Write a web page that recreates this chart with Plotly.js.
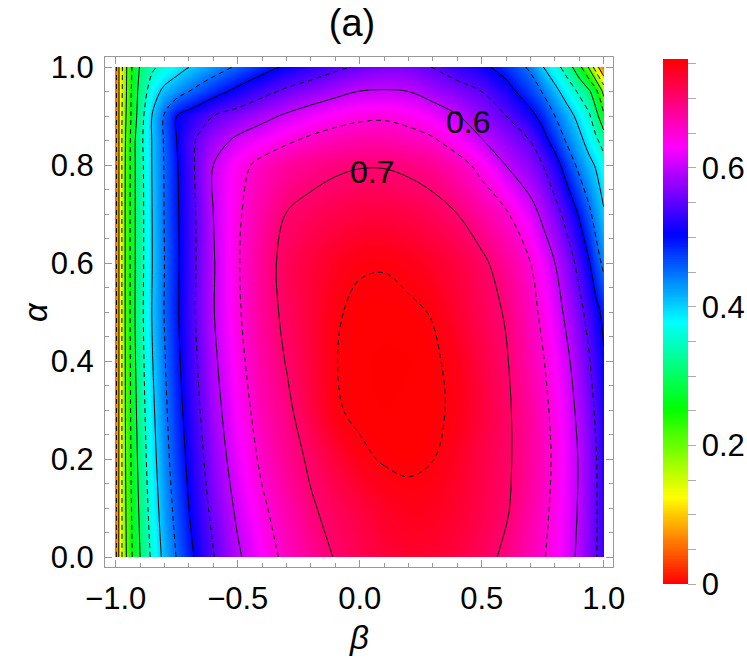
<!DOCTYPE html>
<html>
<head>
<meta charset="utf-8">
<script src="https://cdn.plot.ly/plotly-3.0.1.min.js"></script>
<style>html,body{margin:0;padding:0;background:#fff;}#chart{width:747px;height:663px;}</style>
</head>
<body>
<div id="chart"></div>
<script>
// beta (x) sample columns
var betaVals = [-1, -0.99, -0.98, -0.97, -0.96, -0.95, -0.94, -0.92, -0.9, -0.88, -0.85, -0.8, -0.75, -0.7, -0.65, -0.6, -0.5, -0.4, -0.3, -0.2, -0.1, 0, 0.1, 0.2, 0.3, 0.4, 0.5, 0.6, 0.7, 0.75, 0.8, 0.85, 0.9, 0.94, 0.97, 1.0];
// alpha (y) sample rows
var alphaVals = [0, 0.1, 0.2, 0.3, 0.4, 0.5, 0.6, 0.7, 0.8, 0.85, 0.9, 0.95, 1.0];

// values, one row per alpha
var row_a000 = [0.035, 0.09, 0.131, 0.164, 0.192, 0.215, 0.237, 0.27, 0.30, 0.324, 0.361, 0.414, 0.452, 0.487, 0.519, 0.548, 0.594, 0.630, 0.660, 0.682, 0.702, 0.716, 0.727, 0.733, 0.732, 0.725, 0.712, 0.693, 0.667, 0.654, 0.636, 0.615, 0.592, 0.568, 0.551, 0.532];
var row_a010 = [0.035, 0.089, 0.130, 0.165, 0.196, 0.219, 0.241, 0.279, 0.309, 0.334, 0.373, 0.425, 0.464, 0.5, 0.532, 0.562, 0.608, 0.644, 0.67, 0.696, 0.712, 0.725, 0.737, 0.743, 0.741, 0.733, 0.72, 0.704, 0.675, 0.66, 0.641, 0.619, 0.596, 0.571, 0.552, 0.525];
var row_a020 = [0.035, 0.088, 0.13, 0.167, 0.199, 0.222, 0.245, 0.287, 0.316, 0.343, 0.383, 0.434, 0.474, 0.510, 0.543, 0.574, 0.621, 0.657, 0.684, 0.706, 0.728, 0.746, 0.752, 0.754, 0.7505, 0.739, 0.722, 0.706, 0.68, 0.663, 0.644, 0.621, 0.597, 0.571, 0.551, 0.52];
var row_a030 = [0.035, 0.087, 0.13, 0.168, 0.201, 0.225, 0.248, 0.293, 0.322, 0.35, 0.391, 0.441, 0.482, 0.519, 0.553, 0.584, 0.631, 0.667, 0.692, 0.722, 0.748, 0.754, 0.756, 0.756, 0.754, 0.746, 0.728, 0.706, 0.678, 0.66, 0.64, 0.617, 0.59, 0.564, 0.543, 0.515];
var row_a040 = [0.035, 0.086, 0.129, 0.168, 0.203, 0.227, 0.25, 0.298, 0.327, 0.356, 0.398, 0.447, 0.489, 0.527, 0.56, 0.592, 0.639, 0.675, 0.702, 0.726, 0.7495, 0.755, 0.757, 0.756, 0.753, 0.744, 0.723, 0.703, 0.67, 0.653, 0.63, 0.607, 0.578, 0.553, 0.53, 0.505];
var row_a050 = [0.035, 0.086, 0.129, 0.169, 0.205, 0.229, 0.252, 0.302, 0.331, 0.36, 0.403, 0.452, 0.494, 0.532, 0.566, 0.598, 0.645, 0.681, 0.709, 0.728, 0.748, 0.754, 0.754, 0.753, 0.749, 0.733, 0.715, 0.697, 0.662, 0.642, 0.617, 0.591, 0.562, 0.535, 0.512, 0.488];
var row_a060 = [0.035, 0.086, 0.129, 0.169, 0.205, 0.229, 0.252, 0.30, 0.329, 0.358, 0.4, 0.45, 0.492, 0.53, 0.564, 0.597, 0.647, 0.683, 0.712, 0.727, 0.739, 0.748, 0.749, 0.745, 0.736, 0.725, 0.708, 0.681, 0.65, 0.625, 0.6, 0.571, 0.537, 0.503, 0.468, 0.44];
var row_a070 = [0.035, 0.086, 0.129, 0.169, 0.205, 0.229, 0.252, 0.30, 0.329, 0.358, 0.401, 0.452, 0.494, 0.531, 0.565, 0.6, 0.645, 0.675, 0.701, 0.711, 0.719, 0.724, 0.725, 0.721, 0.713, 0.70, 0.677, 0.655, 0.615, 0.592, 0.566, 0.535, 0.495, 0.459, 0.43, 0.405];
var row_a080 = [0.035, 0.086, 0.129, 0.169, 0.203, 0.228, 0.251, 0.30, 0.33, 0.36, 0.403, 0.453, 0.496, 0.534, 0.569, 0.6, 0.636, 0.662, 0.677, 0.687, 0.694, 0.698, 0.698, 0.693, 0.684, 0.665, 0.638, 0.599, 0.572, 0.55, 0.52, 0.477, 0.438, 0.412, 0.395, 0.37];
var row_a085 = [0.035, 0.086, 0.129, 0.169, 0.20, 0.225, 0.25, 0.30, 0.333, 0.364, 0.403, 0.455, 0.5, 0.536, 0.562, 0.581, 0.609, 0.626, 0.644, 0.658, 0.667, 0.672, 0.672, 0.665, 0.655, 0.632, 0.602, 0.576, 0.549, 0.517, 0.482, 0.444, 0.412, 0.383, 0.357, 0.33];
var row_a090 = [0.035, 0.086, 0.129, 0.165, 0.194, 0.22, 0.245, 0.289, 0.325, 0.358, 0.403, 0.455, 0.5, 0.517, 0.533, 0.55, 0.569, 0.588, 0.606, 0.622, 0.635, 0.643, 0.645, 0.638, 0.623, 0.602, 0.576, 0.55, 0.512, 0.486, 0.45, 0.419, 0.386, 0.357, 0.314, 0.26];
var row_a095 = [0.035, 0.086, 0.127, 0.161, 0.189, 0.216, 0.242, 0.284, 0.316, 0.339, 0.378, 0.412, 0.431, 0.45, 0.467, 0.483, 0.512, 0.537, 0.558, 0.573, 0.588, 0.601, 0.603, 0.6, 0.583, 0.567, 0.55, 0.517, 0.474, 0.447, 0.413, 0.379, 0.342, 0.308, 0.26, 0.185];
var row_a100 = [0.035, 0.086, 0.127, 0.158, 0.187, 0.212, 0.238, 0.275, 0.304, 0.319, 0.342, 0.364, 0.382, 0.40, 0.414, 0.428, 0.456, 0.483, 0.507, 0.524, 0.541, 0.555, 0.564, 0.562, 0.549, 0.529, 0.51, 0.482, 0.442, 0.402, 0.369, 0.328, 0.265, 0.193, 0.118, 0.05];

var zGrid = [row_a000, row_a010, row_a020, row_a030, row_a040, row_a050, row_a060, row_a070, row_a080, row_a085, row_a090, row_a095, row_a100];

var colorTickVals = [0, 0.05, 0.1, 0.15, 0.2, 0.25, 0.3, 0.35, 0.4, 0.45, 0.5, 0.55, 0.6, 0.65, 0.7, 0.75];
var colorTickText = ['0', '', '', '', '0.2', '', '', '', '0.4', '', '', '', '0.6', '', '', ''];
var xTickVals = [-1, -0.5, 0, 0.5, 1];
var xTickText = ['\u22121.0', '\u22120.5', '0.0', '0.5', '1.0'];
var yTickVals = [0, 0.2, 0.4, 0.6, 0.8, 1.0];
var yTickText = ['0.0', '0.2', '0.4', '0.6', '0.8', '1.0'];
var zTop = 0.757;

var hue = [[0, '#ff0000'], [1/6, '#ffff00'], [2/6, '#00ff00'], [3/6, '#00ffff'], [4/6, '#0000ff'], [5/6, '#ff00ff'], [1, '#ff0000']];
var FONT = 'Liberation Sans, Arial, sans-serif';

// plot-area geometry (pixels) used to place the colour bar and titles
var PL = 105, PR = 613, PT = 57, PB = 567;
var pw = PR - PL, ph = PB - PT;

var fillTrace = {
  type: 'contour', x: betaVals, y: alphaVals, z: zGrid,
  colorscale: hue, zmin: 0, zmax: zTop, zauto: false,
  autocontour: false,
  contours: {start: 0, end: zTop, size: 0.003, coloring: 'fill', showlines: false},
  line: {width: 0, smoothing: 1},
  hoverinfo: 'skip',
  showscale: true,
  colorbar: {
    thickness: 25, thicknessmode: 'pixels',
    len: 525, lenmode: 'pixels',
    x: (662.7 - PL) / pw, xanchor: 'left',
    y: (PB - 321.6) / ph, yanchor: 'middle',
    xpad: 0, ypad: 0, outlinewidth: 0,
    tickmode: 'array', tickvals: colorTickVals, ticktext: colorTickText,
    ticks: 'outside', ticklen: 8, tickcolor: '#aaaaaa', tickwidth: 1,
    tickfont: {family: FONT, size: 31, color: '#000'}
  }
};

var solidLines = {
  type: 'contour', x: betaVals, y: alphaVals, z: zGrid,
  autocontour: false, showscale: false, hoverinfo: 'skip',
  contours: {start: 0.1, end: 0.705, size: 0.1, coloring: 'none'},
  line: {color: '#000', width: 1, smoothing: 1}
};
var dashedLines = {
  type: 'contour', x: betaVals, y: alphaVals, z: zGrid,
  autocontour: false, showscale: false, hoverinfo: 'skip',
  contours: {start: 0.05, end: 0.755, size: 0.1, coloring: 'none'},
  line: {color: '#000', width: 1, dash: '5px,4px', smoothing: 1}
};

var axisCommon = {
  showline: true, linecolor: '#999999', linewidth: 1, mirror: 'allticks',
  ticks: 'inside', ticklen: 7, tickcolor: '#999999', tickwidth: 1,
  showgrid: false, zeroline: false, automargin: false,
  tickmode: 'array',
  tickfont: {family: FONT, size: 31, color: '#000'}
};

var layout = {
  width: 747, height: 663,
  margin: {l: PL, r: 747 - PR, t: PT, b: 663 - PB, autoexpand: false},
  paper_bgcolor: '#fff', plot_bgcolor: '#fff',
  showlegend: false,
  title: {text: '(a)', font: {family: FONT, size: 38, color: '#000'}, x: 352 / 747, xref: 'container', xanchor: 'center', y: 1 - 23 / 663, yref: 'container', yanchor: 'middle'},
  xaxis: Object.assign({}, axisCommon, {
    range: [-1.0439, 1.038], tickvals: xTickVals, ticktext: xTickText,
    minor: {dtick: 0.1, tick0: 0, ticks: 'inside', ticklen: 4, tickcolor: '#999999', showgrid: false},
    ticklabelstandoff: 4
  }),
  yaxis: Object.assign({}, axisCommon, {
    range: [-0.0204, 1.0204], tickvals: yTickVals, ticktext: yTickText,
    minor: {dtick: 0.05, tick0: 0, ticks: 'inside', ticklen: 4, tickcolor: '#999999', showgrid: false},
    ticklabelstandoff: 4
  }),
  annotations: [
    {x: 0.444, y: 0.888, xref: 'x', yref: 'y', text: '0.6', showarrow: false, font: {family: FONT, size: 32, color: '#000'}},
    {x: 0.05, y: 0.786, xref: 'x', yref: 'y', text: '0.7', showarrow: false, font: {family: FONT, size: 32, color: '#000'}},
    {x: (359 - PL) / pw, y: (PB - 637) / ph, xref: 'paper', yref: 'paper', text: '<i>β</i>', showarrow: false, xanchor: 'center', yanchor: 'middle', font: {family: FONT, size: 33, color: '#000'}},
    {x: (35 - PL) / pw, y: (PB - 312) / ph, xref: 'paper', yref: 'paper', text: '<i>α</i>', textangle: -90, showarrow: false, xanchor: 'center', yanchor: 'middle', font: {family: FONT, size: 33, color: '#000'}}
  ]
};

Plotly.newPlot('chart', [fillTrace, solidLines, dashedLines], layout, {displayModeBar: false, staticPlot: true});
</script>
</body>
</html>
